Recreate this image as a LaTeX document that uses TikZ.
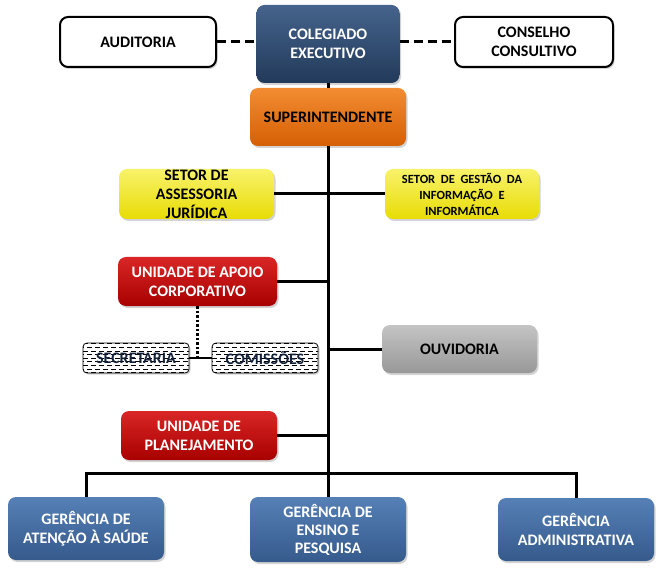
\documentclass[tikz,border=0pt]{standalone}
\usepackage{fontspec}
\setmainfont{Carlito}[BoldFont={Carlito Bold}]
\usetikzlibrary{shadows,calc}
\definecolor{navyT}{HTML}{45638C}
\definecolor{navyB}{HTML}{223A5A}
\definecolor{oranT}{HTML}{F28C32}
\definecolor{oranB}{HTML}{D65F04}
\definecolor{yelT}{HTML}{F8F26A}
\definecolor{yelB}{HTML}{E8DC05}
\definecolor{redT}{HTML}{D92626}
\definecolor{redB}{HTML}{A80000}
\definecolor{grayT}{HTML}{C4C4C4}
\definecolor{grayB}{HTML}{989898}
\definecolor{bluT}{HTML}{5580B6}
\definecolor{bluB}{HTML}{365A8C}
\definecolor{secText}{HTML}{14213A}
\tikzset{
  box/.style={rounded corners=8pt, align=center, inner sep=0pt,
    font=\bfseries\fontsize{16}{19}\selectfont,
    drop shadow={opacity=0.35, shadow xshift=1.5pt, shadow yshift=-2pt}},
  grad/.style 2 args={top color=#1, bottom color=#2, draw=none},
  whitebox/.style={box, fill=white, draw=black, line width=2pt},
  hatchbox/.style={rounded corners=4pt, align=center, inner sep=0pt, draw=black, line width=0.8pt,
    fill=white, text=secText, font=\bfseries\fontsize{16}{19}\selectfont,
    drop shadow={opacity=0.35, shadow xshift=1.5pt, shadow yshift=-1.5pt},
    path picture={
      \foreach \k in {-4,...,4}{
        \draw[line width=0.6pt, dash pattern=on 5pt off 3pt, dash phase={mod(\k+4,2)*4pt}]
          ($(path picture bounding box.west)+(0,\k*3.6pt)$) -- ++(200pt,0);
      }}},
  trunk/.style={line width=3pt, black},
  dashlink/.style={line width=3pt, dash pattern=on 9pt off 5pt},
  dotlink/.style={line width=3pt, dash pattern=on 2.5pt off 2pt},
}
\begin{document}
\begin{tikzpicture}[x=1pt,y=-1pt]
\useasboundingbox (0,0) rectangle (658,577);

% top row
\node[whitebox, minimum width=156pt, minimum height=50pt] (aud) at (138,42) {AUDITORIA};
\node[box, grad={navyT}{navyB}, text=white, minimum width=143pt, minimum height=78pt] (col) at (328,44) {COLEGIADO\\EXECUTIVO};
\node[whitebox, minimum width=158pt, minimum height=50pt] (cons) at (534,42) {CONSELHO\\CONSULTIVO};
\node[box, grad={oranT}{oranB}, text=black, minimum width=156pt, minimum height=58pt] (sup) at (328,117) {SUPERINTENDENTE};

% middle
\node[box, grad={yelT}{yelB}, text=black, minimum width=155pt, minimum height=50pt] (jur) at (196.5,194) {SETOR DE\\ASSESSORIA\\JURÍDICA};
\node[box, grad={yelT}{yelB}, text=black, minimum width=154pt, minimum height=50pt,
      font=\bfseries\fontsize{12.5}{16}\selectfont] (ges) at (462,194) {SETOR\ \ DE\ \ GESTÃO\ \ DA\\INFORMAÇÃO\ \ E\\INFORMÁTICA};
\node[box, grad={redT}{redB}, text=white, minimum width=159pt, minimum height=49pt] (apo) at (197.5,281.5) {UNIDADE DE APOIO\\CORPORATIVO};
\node[hatchbox, minimum width=106pt, minimum height=30pt] (sec) at (136,358) {SECRETARIA};
\node[hatchbox, minimum width=106pt, minimum height=30pt] (com) at (265,358) {COMISSÕES};
\node[box, grad={grayT}{grayB}, text=black, minimum width=155pt, minimum height=48pt] (ouv) at (459.5,349) {OUVIDORIA};
\node[box, grad={redT}{redB}, text=white, minimum width=156pt, minimum height=49pt] (pla) at (199,435.5) {UNIDADE DE\\PLANEJAMENTO};

% bottom
\node[box, grad={bluT}{bluB}, text=white, minimum width=156pt, minimum height=63pt] (g1) at (86,528.5) {GERÊNCIA DE\\ATENÇÃO À SAÚDE};
\node[box, grad={bluT}{bluB}, text=white, minimum width=156pt, minimum height=65pt, font=\bfseries\fontsize{16}{18}\selectfont] (g2) at (328,529.5) {GERÊNCIA DE\\ENSINO E\\PESQUISA};
\node[box, grad={bluT}{bluB}, text=white, minimum width=156pt, minimum height=63pt] (g3) at (576,529.5) {GERÊNCIA\\ADMINISTRATIVA};

\coordinate (bar) at (328,473);

% connectors
\draw[dashlink] (aud.east) -- (aud.east -| col.west);
\draw[dashlink] (cons.west -| col.east) -- (cons.west);
\draw[trunk] (col.south) -- (sup.north);
\draw[trunk] (sup.south) -- (g2.north);
\draw[trunk] (jur.east) -- (ges.west);
\draw[trunk] (apo.east) -- (apo.east -| sup.south);
\draw[trunk] (ouv.west) -- (ouv.west -| sup.south);
\draw[trunk] (pla.east) -- (pla.east -| sup.south);
\draw[trunk] (g1.north) |- (bar) -| (g3.north);
\draw[dotlink] (apo.south) -- (apo.south |- sec.east);
\draw[line width=2.5pt] (sec.east) -- (com.west);
\end{tikzpicture}
\end{document}
